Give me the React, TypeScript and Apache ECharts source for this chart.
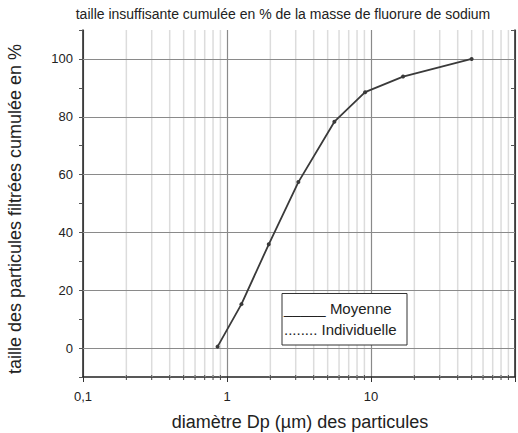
import React, { useEffect, useRef } from "react";
import * as echarts from "echarts";

const diameters = [0.86, 1.26, 1.95, 3.13, 5.57, 9.1, 16.7, 50];
const cumulated = [0.5, 15.2, 35.9, 57.4, 78.3, 88.5, 93.9, 100];
const minorX = [0.2, 0.3, 0.4, 0.5, 0.6, 0.7, 0.8, 0.9, 2, 3, 4, 5, 6, 7, 8, 9, 20, 30, 40, 50, 60, 70, 80, 90];
const majorY = [0, 20, 40, 60, 80, 100];

const titleText = "taille insuffisante cumulée en % de la masse de fluorure de sodium";
const yName = "taille des particules filtrées cumulée en %";
const xName = "diamètre Dp (µm) des particules";
const legendItems = ["_____ Moyenne", "........ Individuelle"];

const FONT = "Liberation Sans, Arial, sans-serif";

export default function App() {
  const ref = useRef<HTMLDivElement>(null);
  useEffect(() => {
    const chart = echarts.init(ref.current!, null, { renderer: "svg" });
    chart.setOption({
      animation: false,
      backgroundColor: "#ffffff",
      textStyle: { fontFamily: FONT },
      grid: { left: 83, right: 2, top: 30, bottom: 56, containLabel: false },
      xAxis: {
        type: "log",
        logBase: 10,
        min: 0.1,
        max: 100,
        axisLine: { show: true, onZero: false, lineStyle: { color: "#222", width: 1.5 } },
        axisTick: { show: true, length: 5, inside: false, lineStyle: { color: "#333" } },
        axisLabel: {
          color: "#222",
          fontSize: 13,
          margin: 13,
          fontFamily: FONT,
          formatter: (v: number) => (v >= 100 ? "" : String(v).replace(".", ",")),
        },
        splitLine: { show: true, lineStyle: { color: "#8a8a8a", width: 1.2 } },
        minorTick: { show: false },
      },
      yAxis: [
        {
          type: "value",
          min: -10,
          max: 110,
          interval: 10,
          axisLine: { show: true, onZero: false, lineStyle: { color: "#222", width: 1.5 } },
          axisTick: { show: true, length: 4, lineStyle: { color: "#555" } },
          axisLabel: {
            color: "#222",
            fontSize: 13,
            margin: 10,
            fontFamily: FONT,
            formatter: (v: number) => (v >= 0 && v <= 100 && v % 20 === 0 ? String(v) : ""),
          },
          splitLine: { show: false },
        },
        {
          type: "value",
          min: -10,
          max: 110,
          interval: 10,
          position: "right",
          axisLine: { show: true, onZero: false, lineStyle: { color: "#222", width: 1.5 } },
          axisTick: { show: true, inside: true, length: 4, lineStyle: { color: "#555" } },
          axisLabel: { show: false },
          splitLine: { show: false },
        },
      ],
      series: [
        {
          type: "custom",
          silent: true,
          z: 1,
          data: minorX.map((x) => [x]),
          renderItem: (params: any, api: any) => {
            const x = api.value(0);
            const top = api.coord([x, 110]);
            const bot = api.coord([x, -10]);
            return {
              type: "group",
              children: [
                {
                  type: "line",
                  shape: { x1: top[0], y1: top[1], x2: bot[0], y2: bot[1] },
                  style: { stroke: "#dcdcdc", lineWidth: 1.5 },
                },
                {
                  type: "line",
                  shape: { x1: bot[0], y1: bot[1] - 2, x2: bot[0], y2: bot[1] + 3 },
                  style: { stroke: "#444", lineWidth: 1 },
                },
              ],
            };
          },
        },
        {
          type: "line",
          z: 2,
          silent: true,
          data: [],
          markLine: {
            silent: true,
            symbol: "none",
            label: { show: false },
            lineStyle: { color: "#8a8a8a", width: 1.2, type: "solid" },
            data: majorY.map((y) => ({ yAxis: y })),
          },
        },
        {
          type: "line",
          z: 5,
          data: diameters.map((d, i) => [d, cumulated[i]]),
          symbol: "circle",
          symbolSize: 4,
          itemStyle: { color: "#3a3a3a" },
          lineStyle: { color: "#3a3a3a", width: 1.8 },
        },
      ],
      graphic: [
        {
          type: "text",
          x: 283,
          y: 14,
          style: {
            text: titleText,
            fontSize: 14,
            fill: "#222",
            fontFamily: FONT,
            align: "center",
            verticalAlign: "middle",
          },
        },
        {
          type: "text",
          x: 15,
          y: 209,
          rotation: Math.PI / 2,
          style: {
            text: yName,
            fontSize: 18,
            fill: "#222",
            fontFamily: FONT,
            align: "center",
            verticalAlign: "middle",
          },
        },
        {
          type: "text",
          x: 300,
          y: 422,
          style: {
            text: xName,
            fontSize: 18,
            fill: "#222",
            fontFamily: FONT,
            align: "center",
            verticalAlign: "middle",
          },
        },
        {
          type: "rect",
          shape: { x: 282, y: 293.5, width: 125, height: 51.5 },
          style: { fill: "#ffffff", stroke: "#333", lineWidth: 1 },
          z: 10,
        },
        {
          type: "text",
          x: 284,
          y: 308,
          z: 11,
          style: { text: legendItems[0], fontSize: 15, fill: "#222", fontFamily: FONT, verticalAlign: "middle" },
        },
        {
          type: "text",
          x: 284,
          y: 329,
          z: 11,
          style: { text: legendItems[1], fontSize: 15, fill: "#222", fontFamily: FONT, verticalAlign: "middle" },
        },
      ],
    });
    return () => chart.dispose();
  }, []);
  return (
    <div
      ref={ref}
      style={{ position: "absolute", left: 0, top: 0, width: 518, height: 433 }}
    />
  );
}
